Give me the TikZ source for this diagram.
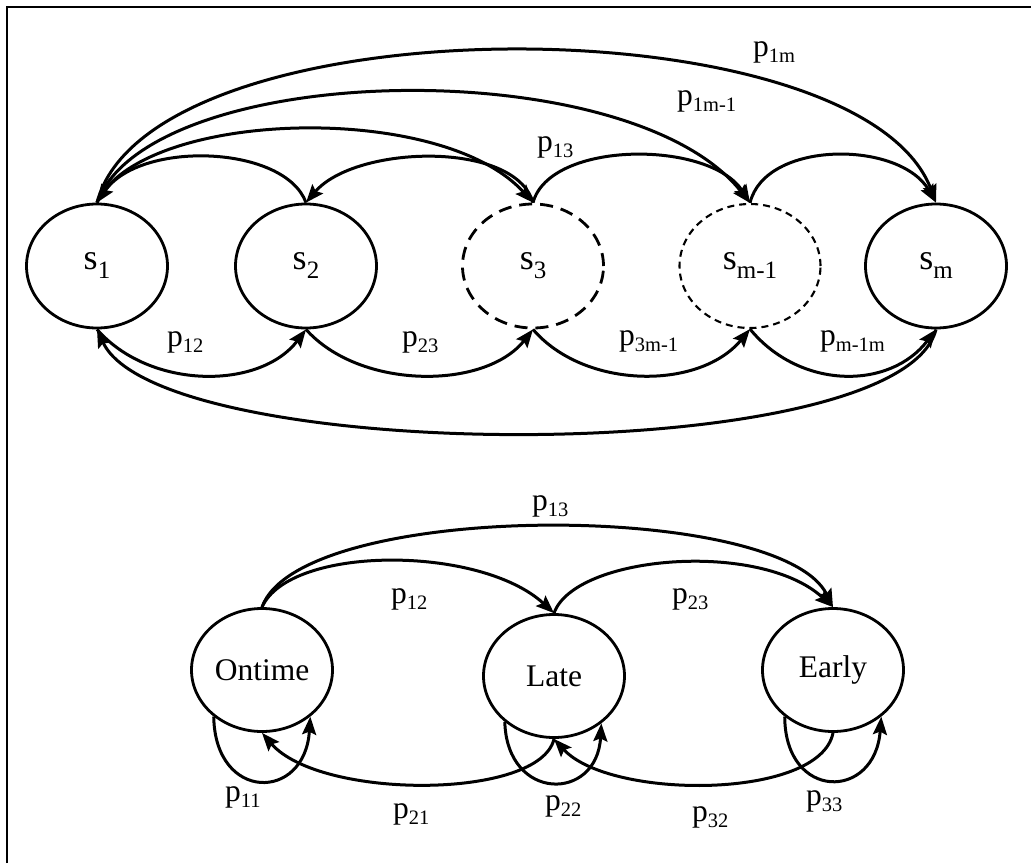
\documentclass[tikz,border=0pt]{standalone}
\usepackage{fontspec}
\setmainfont{Liberation Serif}
\usetikzlibrary{shapes.geometric,arrows.meta}
% state names and transition probabilities with lowered subscripts
\newcommand\psub[1]{p\raisebox{-6.5pt}{\fontsize{20.5}{20.5}\selectfont #1}}
\newcommand\ssub[1]{s\raisebox{-9pt}{\fontsize{25}{25}\selectfont #1}}
\begin{document}
\begin{tikzpicture}[x=1pt,y=-1pt,
  state/.style={ellipse,draw,line width=2.8pt,minimum width=141pt,minimum height=124pt,
    inner sep=0pt,font=\fontsize{36}{36}\selectfont},
  wstate/.style={state,minimum height=123pt,font=\fontsize{31.5}{31.5}\selectfont},
  edge/.style={line width=3pt,-{Stealth[length=18pt,width=14pt,inset=3pt]}},
  prob/.style={anchor=base west,inner sep=0pt,font=\fontsize{31.5}{31.5}\selectfont}]

\useasboundingbox (0,0) rectangle (1031,863);
\draw[line width=2.2pt] (7,863) -- (7,7) -- (1031,7);

% ---- general chain with m states ----
\node[state] (s1) at (97,266) {\ssub{1}};
\node[state] (s2) at (306,266) {\ssub{2}};
\node[state,dash pattern=on 13pt off 8pt] (s3) at (533,266) {\ssub{3}};
\node[state,line width=2.1pt,dash pattern=on 7pt off 5pt] (sm1) at (750,266) {\ssub{m-1}};
\node[state] (sm) at (936,266) {\ssub{m}};

% upper arcs
\draw[edge] (s2.north) .. controls (285,145) and (140,140) .. (s1.north);
\draw[edge] (s3.north) .. controls (515,140) and (355,145) .. (s2.north);
\draw[edge] (s1.north) .. controls (140,110) and (440,100) .. (s3.north);
\draw[edge] (s1.north) .. controls (150,60) and (630,50) .. (sm1.north);
\draw[edge] (s1.north) .. controls (150,0) and (860,0) .. (sm.north);
\draw[edge] (s3.north) .. controls (550,140) and (710,140) .. (sm1.north);
\draw[edge] (sm1.north) .. controls (765,140) and (900,140) .. (sm.north);

% lower arcs
\draw[edge] (s1.south) .. controls (150,390) and (260,390) .. (s2.south);
\draw[edge] (s2.south) .. controls (360,390) and (485,390) .. (s3.south);
\draw[edge] (s3.south) .. controls (585,390) and (700,390) .. (sm1.south);
\draw[edge] (sm1.south) .. controls (800,390) and (890,390) .. (sm.south);
\draw[edge] (sm.south) .. controls (900,470) and (160,465) .. (s1.south);

\node[prob] (q1m) at (753,56) {\psub{1m}};
\node[prob] (q1mm) at (677,105) {\psub{1m-1}};
\node[prob] (q13) at (537,151) {\psub{13}};
\node[prob] (q12) at (167,346) {\psub{12}};
\node[prob] (q23) at (402,346) {\psub{23}};
\node[prob] (q3m) at (619,345) {\psub{3m-1}};
\node[prob] (qmm) at (820,345) {\psub{m-1m}};

% ---- three-state example ----
\node[wstate] (on) at (262,670) {Ontime};
\node[wstate] (late) at (554,676) {Late};
\node[wstate] (early) at (833,670) {Early};

\draw[edge] (on.north) .. controls (290,545) and (480,545) .. (late.north);
\draw[edge] (on.north) .. controls (300,500) and (780,500) .. (early.north);
\draw[edge] (late.north) .. controls (575,555) and (760,540) .. (early.north);

\draw[edge] (on.-136) .. controls (215,802) and (305,802) .. (on.-44);
\draw[edge] (late.-137) .. controls (507,802) and (597,802) .. (late.-45);
\draw[edge] (early.-136) .. controls (785,801) and (875,801) .. (early.-44);

\draw[edge] (late.south) .. controls (540,800) and (320,800) .. (on.south);
\draw[edge] (early.south) .. controls (820,800) and (610,800) .. (late.south);

\node[prob] (r13) at (532,510) {\psub{13}};
\node[prob] (r12) at (391,603) {\psub{12}};
\node[prob] (r23) at (672,603) {\psub{23}};
\node[prob] (r11) at (225,801) {\psub{11}};
\node[prob] (r21) at (393,818) {\psub{21}};
\node[prob] (r22) at (545,810) {\psub{22}};
\node[prob] (r32) at (692,821) {\psub{32}};
\node[prob] (r33) at (806,805) {\psub{33}};
\end{tikzpicture}
\end{document}
